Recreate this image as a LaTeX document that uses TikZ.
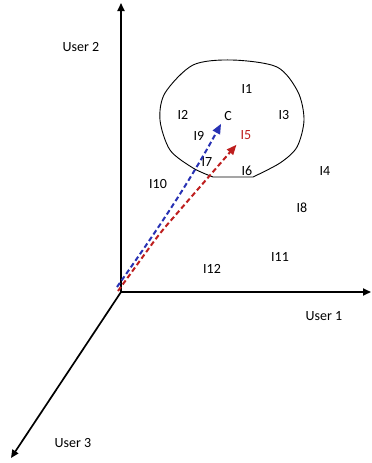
\documentclass[tikz,border=0pt]{standalone}
\usepackage{fontspec}
\setmainfont{Carlito}
\usetikzlibrary{arrows.meta}
\definecolor{dblue}{RGB}{40,50,180}
\definecolor{dred}{RGB}{190,30,30}
\begin{document}
\begin{tikzpicture}[x=1pt,y=-1pt,
  axis/.style={line width=1.7pt,-{Triangle[length=8pt,width=7pt]}},
  lbl/.style={inner sep=0pt,font=\fontsize{14}{14}\selectfont},
  vec/.style={line width=2pt,dash pattern=on 5pt off 3pt,-{Triangle[length=10pt,width=8pt]}}]
\useasboundingbox (0,0) rectangle (372,463);
\fill[white] (0,0) rectangle (372,463);
\coordinate (O) at (121,292);
\coordinate (Y) at (121,3);
\coordinate (X) at (371,292);
\coordinate (Z) at (11,458);
\draw[axis] (O) -- (Y);
\draw[axis] (O) -- (X);
\draw[axis] (O) -- (Z);
\node[lbl] (u2) at (81,47) {User 2};
\node[lbl] (u1) at (324,316) {User 1};
\node[lbl] (u3) at (73,443) {User 3};
% cluster outline
\draw[line width=0.9pt] plot[smooth,tension=0.5] coordinates {
 (253,177) (280,163) (297,147) (304,120) (298,92) (277,67) (232,60)
 (193,65) (165,93) (160,120) (170,150) (193,168) (213,177)} -- cycle;
\node[lbl] (i1) at (247,89) {I1};
\node[lbl] (i2) at (183,115) {I2};
\node[lbl] (c) at (228,116) {C};
\node[lbl] (i3) at (284,115) {I3};
\node[lbl] (i9) at (199,136) {I9};
\node[lbl,text=dred] (i5) at (246,135) {I5};
\node[lbl] (i7) at (207,162) {I7};
\node[lbl] (i6) at (247,171) {I6};
\node[lbl] (i10) at (158,184) {I10};
\node[lbl] (i4) at (325,171) {I4};
\node[lbl] (i8) at (302,208) {I8};
\node[lbl] (i11) at (280,257) {I11};
\node[lbl] (i12) at (212,269) {I12};
\coordinate (sb) at (117,287);
\coordinate (sr) at (118,291);
\draw[vec,dblue] (sb) .. controls (150,240) and (185,190) .. ([shift={(-3,3)}]c.south west);
\draw[vec,dred,rounded corners=12pt] (sr) -- (160,233) -- ([shift={(-4,5)}]i5.south west);
\end{tikzpicture}
\end{document}
